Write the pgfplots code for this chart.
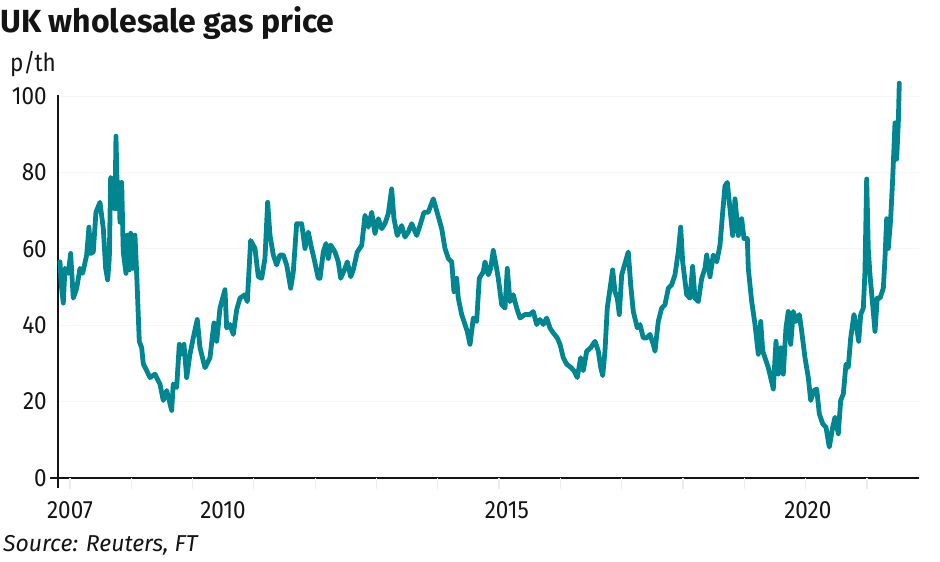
\documentclass[border=0pt]{standalone}
\usepackage{pgfplots}
\pgfplotsset{compat=1.18}
\usepackage{fontspec}
\setmainfont{Fira Sans}
\newfontfamily\numfont[FakeStretch=0.9]{Fira Sans}
\definecolor{ftteal}{RGB}{0,134,145}
\definecolor{ink}{RGB}{20,20,20}

\begin{document}
\begin{tikzpicture}
\path[use as bounding box] (0pt,0pt) rectangle (940pt,562pt);
% titles and source
\node[anchor=base west, inner sep=0, text=ink, font=\bfseries\fontsize{32}{32}\selectfont] at (0pt,529pt) {UK wholesale gas price};
\node[anchor=base west, inner sep=0, text=ink, font=\numfont\fontsize{25}{25}\selectfont] at (10pt,490pt) {p/th};
\node[anchor=base west, inner sep=0, text=ink, font=\itshape\fontsize{23}{23}\selectfont] at (3pt,10pt) {Source: Reuters, FT};

\begin{axis}[
    at={(58pt,84pt)}, anchor=south west,
    scale only axis,
    width=861pt, height=383pt,
    xmin=2006.825, xmax=2021.93,
    ymin=0, ymax=100.3,
    clip=false,
    axis lines=left,
    axis line style={-, line width=1.3pt, ink},
    x axis line style={shorten <=-8pt},
    y axis line style={shorten <=-10pt},
    ytick={0,20,40,60,80,100},
    xtick={2007.035,2009.72,2014.70,2019.98},
    xticklabels={2007,2010,2015,2020},
    major tick length=0pt,
    /pgf/number format/assume math mode=true,
    tick label style={font=\numfont\fontsize{25}{25}\selectfont, text=ink, inner sep=0pt},
    yticklabel style={anchor=east, xshift=-11pt, yshift=0pt},
    xticklabel style={anchor=base, yshift=-41pt},
    ymajorgrids,
    major grid style={draw=gray!7, line width=0.8pt},
    extra x ticks={2007.035,2008.111,2009.186,2010.261,2011.337,2012.412,2013.488,2014.563,2015.639,2016.714,2017.789,2018.865,2019.940,2021.016},
    extra x tick labels={},
    extra x tick style={major tick length=11pt, tick align=outside, xmajorgrids=false, tick style={draw=gray!14, line width=1.2pt}},
]
\addplot[color=ftteal, line width=4.8pt, line join=round, line cap=round, mark=none] coordinates {
(2006.860,56.6) (2006.882,50.6) (2006.918,45.8) (2006.947,54.9) (2007.005,53.6) (2007.047,58.8)
(2007.093,47.1) (2007.153,49.7) (2007.211,54.9) (2007.257,53.6) (2007.328,58.4) (2007.368,65.7)
(2007.398,58.8) (2007.444,59.2) (2007.491,69.6) (2007.561,72.2) (2007.620,65.3) (2007.661,54.9)
(2007.696,51.9) (2007.725,57.5) (2007.749,78.7) (2007.795,77.4) (2007.825,70.5) (2007.842,89.5)
(2007.871,70.5) (2007.895,77.4) (2007.912,67.0) (2007.942,77.4) (2007.970,59.2) (2008.018,53.6)
(2008.041,63.6) (2008.075,54.5) (2008.100,64.1) (2008.135,54.9) (2008.175,63.6) (2008.205,53.6)
(2008.251,35.8) (2008.293,34.1) (2008.321,29.9) (2008.381,28.1) (2008.439,26.3) (2008.526,27.2)
(2008.614,24.6) (2008.672,20.3) (2008.732,22.9) (2008.819,17.7) (2008.847,24.6) (2008.907,23.7)
(2008.953,35.0) (2008.995,32.4) (2009.035,35.0) (2009.082,26.3) (2009.140,32.4) (2009.198,36.7)
(2009.268,41.5) (2009.316,34.1) (2009.404,28.9) (2009.491,31.5) (2009.561,40.6) (2009.609,35.8)
(2009.667,44.5) (2009.754,49.3) (2009.784,39.3) (2009.842,40.2) (2009.900,37.6) (2009.960,44.1)
(2010.018,47.1) (2010.105,48.0) (2010.146,46.2) (2010.205,62.2) (2010.281,60.1) (2010.339,52.7)
(2010.398,52.3) (2010.456,57.5) (2010.503,72.2) (2010.544,63.6) (2010.602,58.4) (2010.661,55.8)
(2010.719,58.4) (2010.777,58.4) (2010.837,55.8) (2010.907,49.7) (2010.953,54.0) (2011.012,66.6)
(2011.100,66.6) (2011.158,60.1) (2011.216,64.4) (2011.275,60.1) (2011.316,57.5) (2011.391,52.3)
(2011.421,52.3) (2011.479,59.2) (2011.526,61.4) (2011.567,57.5) (2011.609,61.0) (2011.684,59.2)
(2011.742,56.6) (2011.784,52.3) (2011.860,54.9) (2011.900,56.6) (2011.960,52.7) (2012.005,54.5)
(2012.075,59.2) (2012.153,60.9) (2012.211,68.8) (2012.268,65.7) (2012.328,69.6) (2012.386,64.0)
(2012.444,67.9) (2012.504,65.3) (2012.561,66.6) (2012.619,69.2) (2012.679,75.7) (2012.719,67.9)
(2012.777,63.5) (2012.854,66.1) (2012.912,63.1) (2012.970,64.4) (2013.030,66.6) (2013.118,63.5)
(2013.175,66.1) (2013.246,69.6) (2013.321,69.6) (2013.409,73.1) (2013.468,70.0) (2013.556,65.3)
(2013.614,60.1) (2013.672,57.5) (2013.732,56.6) (2013.772,48.8) (2013.819,52.3) (2013.847,47.1)
(2013.907,42.8) (2013.965,40.2) (2014.005,38.4) (2014.053,35.0) (2014.111,41.9) (2014.170,41.0)
(2014.216,52.3) (2014.286,54.0) (2014.316,56.6) (2014.374,53.2) (2014.416,54.9) (2014.461,59.6)
(2014.509,55.8) (2014.549,52.3) (2014.609,45.4) (2014.667,44.5) (2014.707,54.9) (2014.754,46.2)
(2014.812,48.0) (2014.872,44.5) (2014.930,41.9) (2015.018,42.8) (2015.105,42.8) (2015.163,43.6)
(2015.223,40.2) (2015.281,41.5) (2015.339,40.2) (2015.398,41.9) (2015.456,39.3) (2015.514,38.0)
(2015.584,36.7) (2015.632,35.0) (2015.690,31.5) (2015.749,29.8) (2015.819,29.0) (2015.877,28.1)
(2015.935,26.3) (2015.995,31.5) (2016.040,28.1) (2016.100,33.2) (2016.170,34.1) (2016.246,35.8)
(2016.304,33.2) (2016.346,28.9) (2016.381,26.8) (2016.421,33.2) (2016.461,44.5) (2016.556,54.5)
(2016.596,48.8) (2016.637,47.1) (2016.672,42.8) (2016.714,53.2) (2016.772,56.2) (2016.830,59.2)
(2016.872,50.6) (2016.918,43.6) (2016.988,39.3) (2017.035,40.2) (2017.093,36.7) (2017.153,36.7)
(2017.211,37.6) (2017.268,35.0) (2017.298,33.2) (2017.356,41.0) (2017.416,44.5) (2017.474,45.4)
(2017.532,49.7) (2017.591,50.6) (2017.649,53.2) (2017.707,59.2) (2017.749,65.7) (2017.784,56.6)
(2017.854,48.0) (2017.912,47.1) (2017.959,55.4) (2018.000,47.1) (2018.058,46.2) (2018.118,52.3)
(2018.175,54.9) (2018.205,58.4) (2018.263,52.7) (2018.321,58.4) (2018.381,56.6) (2018.439,61.0)
(2018.486,69.6) (2018.526,76.5) (2018.567,77.4) (2018.614,70.5) (2018.661,63.5) (2018.702,73.1)
(2018.760,63.5) (2018.819,67.9) (2018.860,62.7) (2018.918,62.7) (2018.935,54.9) (2018.995,46.2)
(2019.053,40.2) (2019.111,32.4) (2019.153,41.0) (2019.188,33.2) (2019.228,31.5) (2019.286,28.9)
(2019.328,26.3) (2019.374,23.3) (2019.421,35.8) (2019.461,27.2) (2019.504,34.1) (2019.549,27.2)
(2019.596,39.3) (2019.637,43.6) (2019.679,35.0) (2019.725,43.6) (2019.772,41.0) (2019.830,42.8)
(2019.872,38.4) (2019.930,31.5) (2019.988,26.3) (2020.030,20.3) (2020.088,22.9) (2020.135,23.3)
(2020.181,16.8) (2020.240,14.2) (2020.298,13.3) (2020.356,8.1) (2020.416,13.3) (2020.456,15.9)
(2020.514,11.6) (2020.556,20.3) (2020.602,22.0) (2020.649,29.8) (2020.689,29.0) (2020.732,36.7)
(2020.789,42.8) (2020.837,39.3) (2020.872,35.8) (2020.907,42.8) (2020.953,44.5) (2020.982,54.0)
(2021.012,78.3) (2021.040,60.1) (2021.070,53.2) (2021.117,45.4) (2021.158,38.4) (2021.198,47.1)
(2021.246,47.1) (2021.304,49.7) (2021.333,57.5) (2021.363,67.9) (2021.391,60.1) (2021.433,67.9)
(2021.468,78.3) (2021.509,93.0) (2021.538,83.5) (2021.567,93.0) (2021.584,103.4)
};
\end{axis}
\end{tikzpicture}
\end{document}
